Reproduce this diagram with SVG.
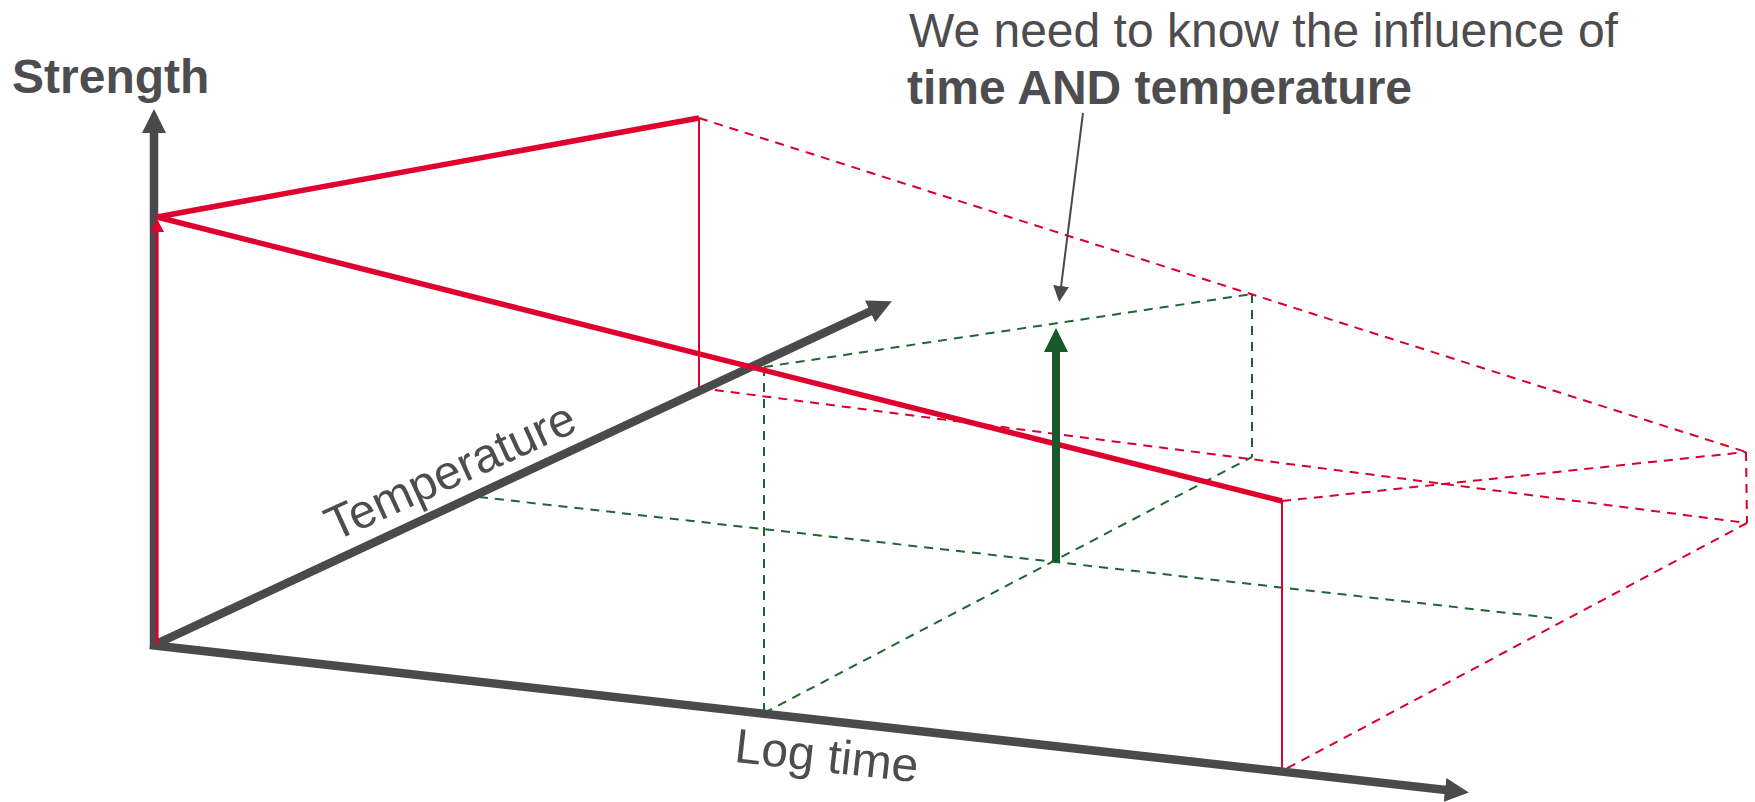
<svg xmlns="http://www.w3.org/2000/svg" width="1755" height="802" viewBox="0 0 1755 802">
<style>
.txt{font-family:"Liberation Sans",Arial,sans-serif;fill:#4D4D4F;font-size:48px}
.b{font-weight:bold}
.axis{stroke:#4A4A4C;stroke-width:8.5;fill:none}
.red{stroke:#E0002D;fill:none}
.rthick{stroke-width:5.5}
.rthin{stroke-width:2}
.rdash{stroke:#D9002B;stroke-width:2;stroke-dasharray:9,7;fill:none}
.gdash{stroke:#1E6532;stroke-width:2;stroke-dasharray:9,7;fill:none}
</style>
<defs>
<marker id="arrDark" viewBox="0 -12 24 24" markerWidth="24" markerHeight="24" refX="1" refY="0" markerUnits="userSpaceOnUse" orient="auto">
<path d="M0,-12 L24,0 L0,12 z" fill="#4A4A4C"/>
</marker>
<marker id="arrGreen" viewBox="0 -12 24 24" markerWidth="24" markerHeight="24" refX="1" refY="0" markerUnits="userSpaceOnUse" orient="auto">
<path d="M0,-12 L24,0 L0,12 z" fill="#17592B"/>
</marker>
<marker id="arrRed" viewBox="0 -7 13 14" markerWidth="13" markerHeight="14" refX="1" refY="0" markerUnits="userSpaceOnUse" orient="auto">
<path d="M0,-7 L13,0 L0,7 z" fill="#E0002D"/>
</marker>
<marker id="arrNote" viewBox="0 -8 16 16" markerWidth="16" markerHeight="16" refX="1" refY="0" markerUnits="userSpaceOnUse" orient="auto">
<path d="M0,-8 L16,0 L0,8 z" fill="#4A4A4C"/>
</marker>
</defs>

<g id="connectors">
<line class="gdash" x1="764" y1="367" x2="1252" y2="294"/>
<line class="gdash" x1="764" y1="367" x2="764" y2="713"/>
<line class="gdash" x1="1252" y1="294" x2="1252" y2="457"/>
<line class="gdash" x1="764" y1="713" x2="1252" y2="457"/>
<line class="gdash" x1="479" y1="497" x2="1552" y2="618"/>
<line class="rdash" x1="699" y1="118" x2="1746" y2="452"/>
<line class="rdash" x1="699" y1="388" x2="1747" y2="523"/>
<line class="rdash" x1="1282" y1="501" x2="1746" y2="452"/>
<line class="rdash" x1="1746" y1="452" x2="1747" y2="523"/>
<line class="rdash" x1="1747" y1="523" x2="1282" y2="771"/>
<line class="red rthin" x1="699" y1="118" x2="699" y2="388"/>
<line class="red rthin" x1="1282" y1="501" x2="1282" y2="771"/>
</g>

<g id="axis-strength">
<line class="axis" x1="154" y1="649" x2="154" y2="132" marker-end="url(#arrDark)"/>
<text class="txt b" x="12" y="93">Strength</text>
</g>

<g id="axis-time">
<line class="axis" x1="150" y1="645" x2="1446" y2="790" marker-end="url(#arrDark)"/>
<text class="txt" x="825" y="772" text-anchor="middle" transform="rotate(6.4 825 772)">Log time</text>
</g>

<g id="axis-temperature">
<line class="axis" x1="154" y1="645" x2="871" y2="311" marker-end="url(#arrDark)"/>
<text class="txt" x="457" y="486" text-anchor="middle" transform="rotate(-24.5 457 486)">Temperature</text>
</g>

<g id="red-curve">
<line class="red" stroke-width="3" x1="157" y1="644" x2="157" y2="231" marker-end="url(#arrRed)"/>
<polyline class="red rthick" points="699,118 157,217 1282,501" stroke-linejoin="miter"/>
</g>

<g id="green-arrow">
<line stroke="#17592B" stroke-width="8" x1="1056" y1="562" x2="1056" y2="351" marker-end="url(#arrGreen)"/>
</g>

<g id="note">
<text class="txt" x="909" y="47">We need to know the influence of</text>
<text class="txt b" x="907" y="104">time AND temperature</text>
<line stroke="#4A4A4C" stroke-width="2" x1="1083" y1="113" x2="1061" y2="287" marker-end="url(#arrNote)"/>
</g>
</svg>
